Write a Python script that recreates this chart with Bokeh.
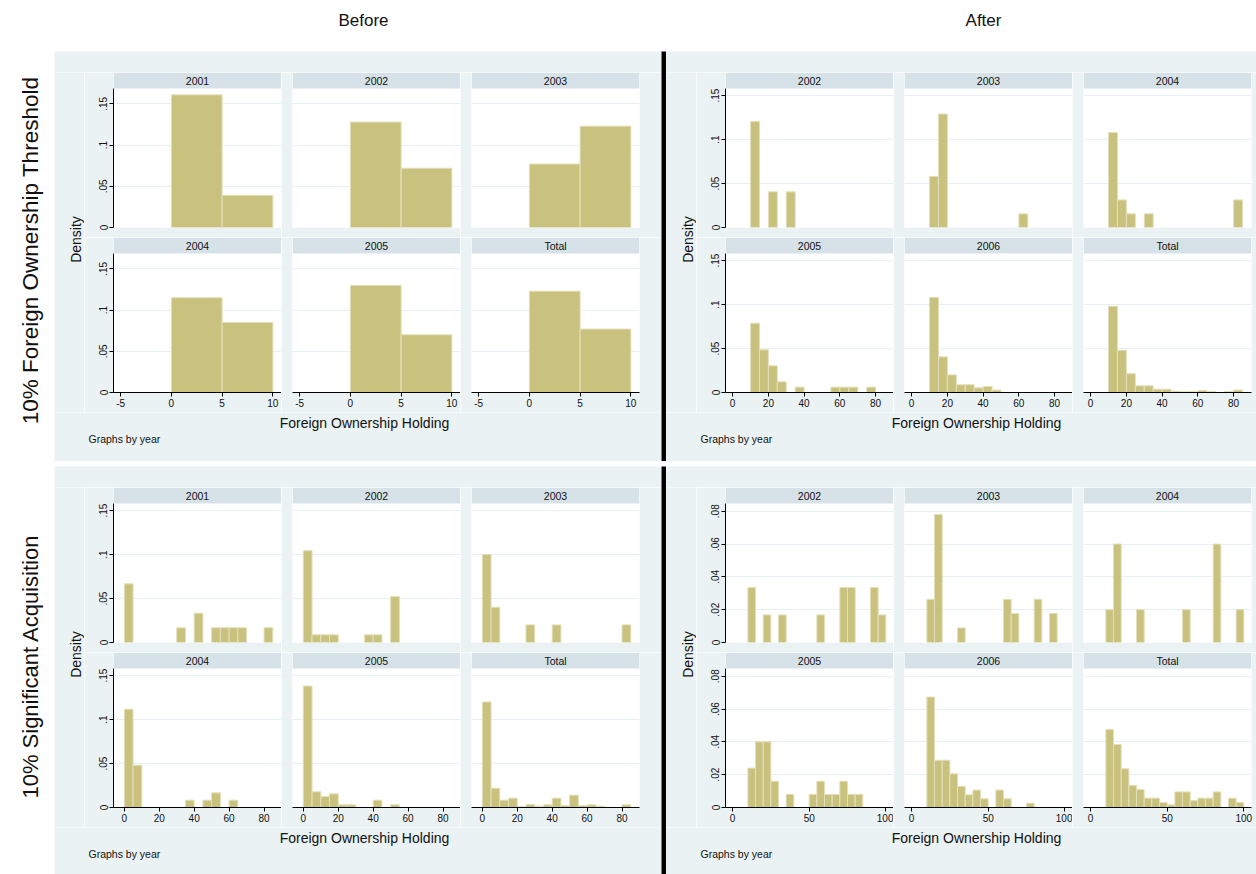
import math

from bokeh.core.validation import silence
from bokeh.core.validation.warnings import MISSING_RENDERERS
from bokeh.embed import file_html
from bokeh.layouts import column, row
from bokeh.models import (BoxAnnotation, ColumnDataSource, CustomJSTickFormatter,
                          FixedTicker, Label, Range1d)
from bokeh.plotting import figure
from bokeh.resources import INLINE

silence(MISSING_RENDERERS, True)

# ---------------------------------------------------------------- data
BIN_WIDTH = 5

PANELS_BEFORE = ["2001", "2002", "2003", "2004", "2005", "Total"]
PANELS_AFTER = ["2002", "2003", "2004", "2005", "2006", "Total"]

# 10% foreign ownership threshold, before (bin starts, density per bin)
thr_before_bins = [0, 5]
thr_before_2001 = [0.161, 0.039]
thr_before_2002 = [0.128, 0.072]
thr_before_2003 = [0.077, 0.123]
thr_before_2004 = [0.115, 0.085]
thr_before_2005 = [0.130, 0.070]
thr_before_total = [0.123, 0.077]

# 10% foreign ownership threshold, after
thr_after_bins = [10, 15, 20, 25, 30, 35, 40, 45, 50, 55, 60, 65, 70, 75, 80]
thr_after_2002 = [0.1205, 0, 0.0405, 0, 0.0405, 0, 0, 0, 0, 0, 0, 0, 0, 0, 0]
thr_after_2003 = [0.058, 0.129, 0, 0, 0, 0, 0, 0, 0, 0, 0.0155, 0, 0, 0, 0]
thr_after_2004 = [0.108, 0.0314, 0.0155, 0, 0.0155, 0, 0, 0, 0, 0, 0, 0, 0, 0, 0.0314]
thr_after_2005 = [0.0788, 0.0485, 0.0303, 0.0121, 0, 0.0061, 0, 0, 0, 0.0061, 0.0061, 0.0061, 0, 0.0061, 0]
thr_after_2006 = [0.108, 0.0405, 0.020, 0.0088, 0.0088, 0.0053, 0.0069, 0.0027, 0, 0, 0, 0, 0, 0, 0]
thr_after_total = [0.098, 0.048, 0.0214, 0.0076, 0.0076, 0.0038, 0.0038, 0.0015, 0.0008, 0.001, 0.0023, 0.001, 0, 0.001, 0.0027]

# 10% significant acquisition, before
sig_before_bins = [0, 5, 10, 15, 20, 25, 30, 35, 40, 45, 50, 55, 60, 65, 70, 75, 80]
sig_before_2001 = [0.0667, 0, 0, 0, 0, 0, 0.0167, 0, 0.0333, 0, 0.0167, 0.0167, 0.0167, 0.0167, 0, 0, 0.0167]
sig_before_2002 = [0.1043, 0.0087, 0.0087, 0.0087, 0, 0, 0, 0.0087, 0.0087, 0, 0.0522, 0, 0, 0, 0, 0, 0]
sig_before_2003 = [0.100, 0.040, 0, 0, 0, 0.020, 0, 0, 0.020, 0, 0, 0, 0, 0, 0, 0, 0.020]
sig_before_2004 = [0.1117, 0.048, 0, 0, 0, 0, 0, 0.0083, 0, 0.0083, 0.0167, 0, 0.0083, 0, 0, 0, 0]
sig_before_2005 = [0.138, 0.0178, 0.0125, 0.0155, 0.003, 0.003, 0, 0, 0.0083, 0, 0.003, 0, 0, 0, 0, 0, 0]
sig_before_total = [0.120, 0.022, 0.0083, 0.0106, 0.001, 0.0034, 0.0015, 0.003, 0.0106, 0.002, 0.014, 0.002, 0.003, 0.0015, 0, 0, 0.003]

# 10% significant acquisition, after
sig_after_bins = [10, 15, 20, 25, 30, 35, 40, 45, 50, 55, 60, 65, 70, 75, 80, 85, 90, 95]
sig_after_2002 = [0.0335, 0, 0.0168, 0, 0.0168, 0, 0, 0, 0, 0.0168, 0, 0, 0.0335, 0.0335, 0, 0, 0.0335, 0.0168]
sig_after_2003 = [0.0263, 0.078, 0, 0, 0.0089, 0, 0, 0, 0, 0, 0.0263, 0.0176, 0, 0, 0.0263, 0, 0.0176, 0]
sig_after_2004 = [0.020, 0.060, 0, 0, 0.020, 0, 0, 0, 0, 0, 0.020, 0, 0, 0, 0.060, 0, 0, 0.020]
sig_after_2005 = [0.024, 0.040, 0.040, 0.016, 0, 0.008, 0, 0, 0.008, 0.016, 0.008, 0.008, 0.016, 0.008, 0.008, 0, 0, 0]
sig_after_2006 = [0.0673, 0.0288, 0.0288, 0.0205, 0.0128, 0.0077, 0.0106, 0.0053, 0, 0.0106, 0.0053, 0, 0, 0.0026, 0, 0, 0, 0]
sig_after_total = [0.0475, 0.0384, 0.0236, 0.0135, 0.0109, 0.0057, 0.0057, 0.003, 0.0016, 0.0095, 0.0095, 0.0042, 0.0057, 0.0057, 0.0095, 0, 0.0057, 0.003]

thr_before_ticks_x = [-5, 0, 5, 10]
thr_after_ticks_x = [0, 20, 40, 60, 80]
sig_before_ticks_x = [0, 20, 40, 60, 80]
sig_after_ticks_x = [0, 50, 100]
density_ticks_wide = [0, 0.05, 0.10, 0.15]
density_ticks_narrow = [0, 0.02, 0.04, 0.06, 0.08]

# ---------------------------------------------------------------- style
FONT = "Liberation Sans"
BG = "#eaf2f3"
STRIP = "#d6e2e8"
GRID = "#e6eff1"
BAR = "#c9c17e"
BAR_EDGE = "#e4dfba"
INK = "#111111"
TICK_SIZE = "10px"

PLOT_W, PLOT_H, STRIP_H = 168, 139, 16
TOP_PAD = 21
DENS_W = 30
ROW_A_H = STRIP_H + PLOT_H + 10
ROW_B_H = STRIP_H + PLOT_H + 20

Y_FMT = CustomJSTickFormatter(code="""
if (Math.abs(tick) < 1e-9) { return "0"; }
let s = tick.toFixed(2).replace(/0+$/, "");
return s.replace(/^0/, "");
""")
X_FMT = CustomJSTickFormatter(code="return String(Math.round(tick));")


def text_canvas(width, height, fill):
    p = figure(width=width, height=height, x_range=Range1d(0, width), y_range=Range1d(0, height),
               output_backend="svg", toolbar_location=None,
               x_axis_location=None, y_axis_location=None, min_border=0,
               background_fill_color=fill, border_fill_color=fill, outline_line_color=None)
    p.xgrid.visible = False
    p.ygrid.visible = False
    return p


def add_text(p, x, y, text, size, align="center", angle=0.0):
    p.add_layout(Label(x=x, y=y, text=text, angle=angle, text_align=align,
                       text_baseline="middle", text_font=FONT,
                       text_font_size=size, text_color=INK))


def style_axis(ax):
    ax.major_tick_out = 4
    ax.major_tick_in = 0
    ax.minor_tick_line_color = None
    ax.axis_line_color = "black"
    ax.major_tick_line_color = "black"
    ax.major_label_standoff = 2
    ax.major_label_text_font = FONT
    ax.major_label_text_font_size = TICK_SIZE
    ax.major_label_text_color = INK


def make_panel(title, bins, dens, cfg, col, bottom_row):
    left = 29 if col == 0 else 11
    right = cfg["right_pad"] if col == 2 else 0
    bottom = 20 if bottom_row else 10
    ytop = cfg["ytop"]
    y_full = ytop * (PLOT_H + STRIP_H) / PLOT_H
    x0, x1 = cfg["xr"]
    p = figure(width=left + PLOT_W + right, height=STRIP_H + PLOT_H + bottom,
               x_range=Range1d(x0, x1), y_range=Range1d(0, y_full),
               output_backend="svg", toolbar_location=None,
               x_axis_location="below" if bottom_row else None,
               y_axis_location="left" if col == 0 else None,
               min_border=0, min_border_left=left, min_border_right=right,
               min_border_top=0, min_border_bottom=bottom,
               background_fill_color="white", border_fill_color=BG,
               outline_line_color=None)

    p.xgrid.visible = False
    p.ygrid.ticker = FixedTicker(ticks=[t for t in cfg["yticks"] if t > 0])
    p.ygrid.grid_line_color = GRID
    p.ygrid.grid_line_width = 1

    starts = [b for b, d in zip(bins, dens) if d > 0]
    src = ColumnDataSource(dict(left=starts,
                                right=[b + BIN_WIDTH for b in starts],
                                top=[d for d in dens if d > 0]))
    p.quad(left="left", right="right", bottom=0, top="top", source=src,
           fill_color=BAR, line_color=BAR_EDGE, line_width=1)

    # header strip above the plot region
    p.add_layout(BoxAnnotation(bottom=ytop, fill_color=STRIP, fill_alpha=1.0,
                               line_color=None))
    p.add_layout(Label(x=(x0 + x1) / 2, y=(ytop + y_full) / 2, text=title,
                       text_align="center", text_baseline="middle",
                       text_font=FONT, text_font_size="10.5px", text_color=INK))

    if col == 0:
        ax = p.yaxis[0]
        ax.ticker = FixedTicker(ticks=cfg["yticks"], minor_ticks=[])
        ax.formatter = Y_FMT
        ax.bounds = (0, ytop)
        ax.major_label_orientation = "vertical"
        style_axis(ax)
    if bottom_row:
        ax = p.xaxis[0]
        ax.ticker = FixedTicker(ticks=cfg["xticks"], minor_ticks=[])
        ax.formatter = X_FMT
        style_axis(ax)
    return p


def make_quadrant(cfg):
    W, H = cfg["W"], cfg["H"]
    names, bins, series = cfg["names"], cfg["bins"], cfg["series"]
    top = text_canvas(W, TOP_PAD, BG)
    row_a = [make_panel(names[i], bins, series[i], cfg, i, False) for i in range(3)]
    row_b = [make_panel(names[3 + i], bins, series[3 + i], cfg, i, True) for i in range(3)]

    grid_h = ROW_A_H + ROW_B_H
    dens = text_canvas(DENS_W, grid_h, BG)
    add_text(dens, 21, grid_h - 167, "Density", "14px", angle=math.pi / 2)

    foot_h = H - TOP_PAD - grid_h
    foot = text_canvas(W, foot_h, BG)
    add_text(foot, 310, foot_h - 10.7, "Foreign Ownership Holding", "14px")
    add_text(foot, 34, foot_h - 26, "Graphs by year", "10.5px", align="left")

    return column(top, row(dens, column(row(*row_a), row(*row_b))), foot)


quads = {
    "tl": dict(names=PANELS_BEFORE, bins=thr_before_bins,
               series=[thr_before_2001, thr_before_2002, thr_before_2003,
                       thr_before_2004, thr_before_2005, thr_before_total],
               xr=(-5.7, 10.85), xticks=thr_before_ticks_x, ytop=0.1687,
               yticks=density_ticks_wide, W=607, H=410, right_pad=22),
    "tr": dict(names=PANELS_AFTER, bins=thr_after_bins,
               series=[thr_after_2002, thr_after_2003, thr_after_2004,
                       thr_after_2005, thr_after_2006, thr_after_total],
               xr=(-4.0, 90.0), xticks=thr_after_ticks_x, ytop=0.158,
               yticks=density_ticks_wide, W=590, H=410, right_pad=5),
    "bl": dict(names=PANELS_BEFORE, bins=sig_before_bins,
               series=[sig_before_2001, sig_before_2002, sig_before_2003,
                       sig_before_2004, sig_before_2005, sig_before_total],
               xr=(-6.2, 90.0), xticks=sig_before_ticks_x, ytop=0.158,
               yticks=density_ticks_wide, W=607, H=408, right_pad=22),
    "br": dict(names=PANELS_AFTER, bins=sig_after_bins,
               series=[sig_after_2002, sig_after_2003, sig_after_2004,
                       sig_after_2005, sig_after_2006, sig_after_total],
               xr=(-4.6, 105.0), xticks=sig_after_ticks_x, ytop=0.0847,
               yticks=density_ticks_narrow, W=590, H=408, right_pad=5),
}

# page header with the period titles
header = text_canvas(1256, 51, "white")
add_text(header, 363, 31, "Before", "17px")
add_text(header, 983, 31, "After", "17px")

side_top = text_canvas(54, 410, "white")
add_text(side_top, 30, 410 - 199, "10% Foreign Ownership Threshold", "22.5px", angle=math.pi / 2)
side_bottom = text_canvas(54, 408, "white")
add_text(side_bottom, 30, 408 - 200, "10% Significant Acquisition", "22px", angle=math.pi / 2)

vbar_top = text_canvas(5, 410, "black")
vbar_bottom = text_canvas(5, 408, "black")
hbar_gap = text_canvas(54, 5, "white")
hbar = text_canvas(1202, 5, "black")

page = column(
    header,
    row(side_top, make_quadrant(quads["tl"]), vbar_top, make_quadrant(quads["tr"])),
    row(hbar_gap, hbar),
    row(side_bottom, make_quadrant(quads["bl"]), vbar_bottom, make_quadrant(quads["br"])),
)

with open("out.html", "w") as f:
    f.write(file_html(page, INLINE))
